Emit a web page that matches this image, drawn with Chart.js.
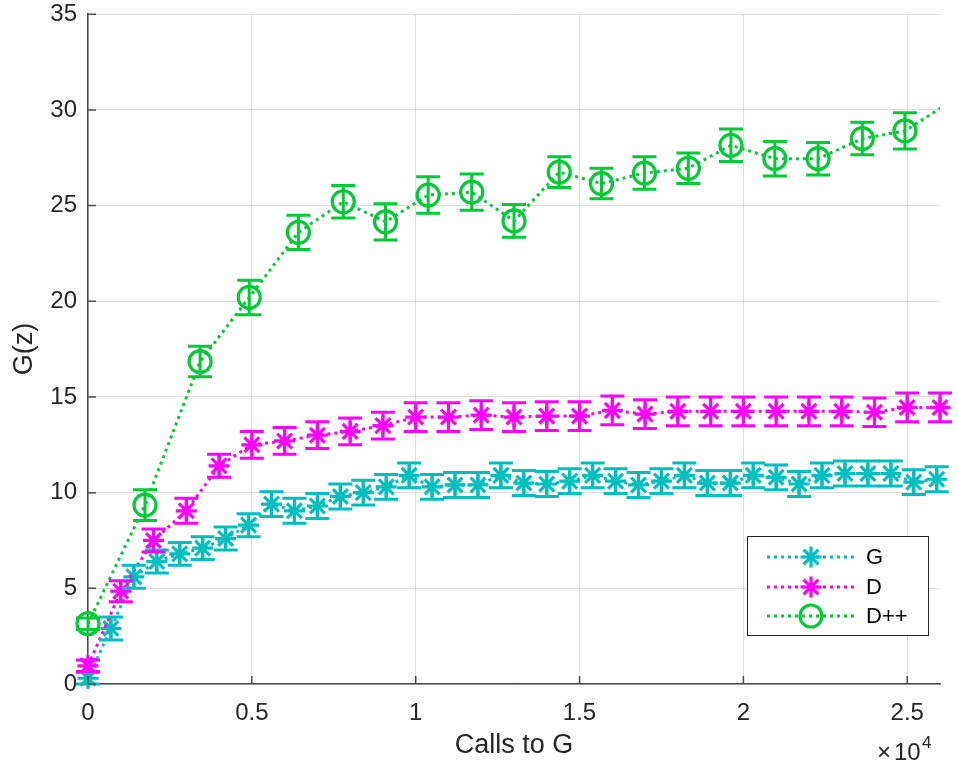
<!DOCTYPE html>
<html>
<head>
<meta charset="utf-8">
<script src="https://cdn.jsdelivr.net/npm/chart.js@4.4.0/dist/chart.umd.min.js"></script>
<style>
html, body { margin: 0; padding: 0; background: #fff; }
#wrap { width: 958px; height: 766px; }
</style>
</head>
<body>
<div id="wrap"><canvas id="myChart1" width="958" height="766"></canvas></div>
<script>
// tick labels
const xTicks = [0, 5000, 10000, 15000, 20000, 25000];
const xTickLabels = ['0', '0.5', '1', '1.5', '2', '2.5'];
const yTicks = [0, 5, 10, 15, 20, 25, 30, 35];
const yTickLabels = ['0', '5', '10', '15', '20', '25', '30', '35'];

// series G
const gCalls = [0, 700, 1400, 2100, 2800, 3500, 4200, 4900, 5600, 6300, 7000, 7700, 8400, 9100, 9800,
    10500, 11200, 11900, 12600, 13300, 14000, 14700, 15400, 16100, 16800, 17500, 18200, 18900, 19600,
    20300, 21000, 21700, 22400, 23100, 23800, 24500, 25200, 25900];
const gValues = [0.3, 2.9, 5.6, 6.4, 6.8, 7.1, 7.6, 8.3, 9.4, 9.05, 9.3, 9.8, 10.0, 10.3, 10.9,
    10.3, 10.4, 10.4, 10.9, 10.5, 10.45, 10.6, 10.9, 10.6, 10.4, 10.6, 10.9, 10.5, 10.5,
    10.9, 10.8, 10.45, 10.9, 11.0, 11.0, 11.0, 10.55, 10.7];
const gErr = [0.3, 0.6, 0.6, 0.6, 0.6, 0.6, 0.6, 0.6, 0.65, 0.65, 0.65, 0.65, 0.65, 0.65, 0.65,
    0.65, 0.65, 0.65, 0.65, 0.65, 0.65, 0.65, 0.65, 0.65, 0.65, 0.65, 0.65, 0.65, 0.65,
    0.65, 0.65, 0.65, 0.65, 0.65, 0.65, 0.65, 0.65, 0.65];

// series D
const dCalls = [0, 1000, 2000, 3000, 4000, 5000, 6000, 7000, 8000, 9000, 10000, 11000, 12000, 13000,
    14000, 15000, 16000, 17000, 18000, 19000, 20000, 21000, 22000, 23000, 24000, 25000, 26000];
const dValues = [0.95, 4.85, 7.5, 9.05, 11.4, 12.5, 12.7, 13.0, 13.2, 13.5, 13.95, 13.95, 14.05, 13.95,
    14.0, 14.0, 14.3, 14.1, 14.25, 14.25, 14.25, 14.25, 14.25, 14.25, 14.2, 14.45, 14.45];
const dErr = [0.3, 0.55, 0.6, 0.65, 0.6, 0.7, 0.7, 0.7, 0.7, 0.7, 0.75, 0.75, 0.75, 0.75,
    0.75, 0.75, 0.75, 0.75, 0.75, 0.75, 0.75, 0.75, 0.75, 0.75, 0.75, 0.75, 0.75];

// series D++
const dppCalls = [0, 1740, 3420, 4920, 6420, 7790, 9080, 10380, 11710, 13000, 14380, 15670, 16980,
    18320, 19620, 20960, 22280, 23630, 24930, 26250];
const dppValues = [3.15, 9.35, 16.85, 20.2, 23.6, 25.2, 24.15, 25.55, 25.7, 24.2, 26.75, 26.15, 26.7,
    26.95, 28.15, 27.45, 27.45, 28.5, 28.9, 30.35];
const dppErr = [0.3, 0.8, 0.8, 0.9, 0.9, 0.85, 0.95, 0.95, 0.95, 0.85, 0.8, 0.8, 0.85,
    0.8, 0.85, 0.9, 0.85, 0.85, 0.95, 0.85];

const X_MAX = 26000;
const FONT = '"Liberation Sans", Arial, Helvetica, sans-serif';
const TXT = '#262626';
const AXIS = '#4a4a4a';

function pts(xs, ys) {
    return xs.map((x, i) => ({ x: x, y: ys[i] }));
}

function series(label, xs, ys, err, color, style, radius, order, clip) {
    return {
        label: label,
        data: pts(xs, ys),
        err: err,
        borderColor: color,
        backgroundColor: 'rgba(0,0,0,0)',
        borderWidth: 3,
        borderDash: [3, 4],
        borderCapStyle: 'butt',
        pointStyle: style,
        pointRadius: ctx => (ctx.raw && ctx.raw.x > X_MAX ? 0 : radius),
        pointBorderWidth: 3.2,
        pointBorderColor: color,
        pointBackgroundColor: 'rgba(0,0,0,0)',
        tension: 0,
        order: order,
        clip: clip
    };
}

const errorBars = {
    id: 'errorBars',
    afterDatasetsDraw(chart) {
        const ctx = chart.ctx;
        const xs = chart.scales.x, ys = chart.scales.y;
        chart.data.datasets.forEach(ds => {
            ctx.save();
            ctx.strokeStyle = ds.borderColor;
            ctx.lineWidth = 3;
            ds.data.forEach((p, i) => {
                if (p.x > X_MAX) return;
                const px = xs.getPixelForValue(p.x);
                const top = ys.getPixelForValue(p.y + ds.err[i]);
                const bot = ys.getPixelForValue(p.y - ds.err[i]);
                ctx.beginPath();
                ctx.moveTo(px, top); ctx.lineTo(px, bot);
                ctx.moveTo(px - 12, top); ctx.lineTo(px + 12, top);
                ctx.moveTo(px - 12, bot); ctx.lineTo(px + 12, bot);
                ctx.stroke();
            });
            ctx.restore();
        });
    }
};

function drawMarker(ctx, style, x, y, r) {
    ctx.beginPath();
    if (style === 'circle') {
        ctx.arc(x, y, r, 0, Math.PI * 2);
    } else {
        const d = r * Math.SQRT1_2;
        ctx.moveTo(x - r, y); ctx.lineTo(x + r, y);
        ctx.moveTo(x, y - r); ctx.lineTo(x, y + r);
        ctx.moveTo(x - d, y - d); ctx.lineTo(x + d, y + d);
        ctx.moveTo(x - d, y + d); ctx.lineTo(x + d, y - d);
    }
    ctx.stroke();
}

const extras = {
    id: 'extras',
    afterDraw(chart) {
        const ctx = chart.ctx;
        const a = chart.chartArea;
        const xs = chart.scales.x, ys = chart.scales.y;
        ctx.save();
        // inward ticks
        ctx.strokeStyle = AXIS;
        ctx.lineWidth = 1.5;
        ctx.beginPath();
        yTicks.forEach(v => {
            const y = ys.getPixelForValue(v);
            ctx.moveTo(a.left, y); ctx.lineTo(a.left + 8, y);
        });
        xTicks.forEach(v => {
            const x = xs.getPixelForValue(v);
            ctx.moveTo(x, a.bottom); ctx.lineTo(x, a.bottom - 8);
        });
        ctx.stroke();

        // x10^4 exponent
        ctx.fillStyle = TXT;
        ctx.textBaseline = 'alphabetic';
        ctx.textAlign = 'left';
        ctx.font = '24px ' + FONT;
        ctx.fillText('\u00d7', a.right - 63, 760);
        ctx.fillText('10', a.right - 46, 760);
        ctx.font = '17px ' + FONT;
        ctx.fillText('4', a.right - 18, 748);

        // legend
        const lx = 747.5, ly = 536.5, lw = 181, lh = 99;
        ctx.fillStyle = '#fff';
        ctx.fillRect(lx, ly, lw, lh);
        ctx.strokeStyle = TXT;
        ctx.lineWidth = 1;
        ctx.strokeRect(lx, ly, lw, lh);
        const rows = [557, 587, 616];
        chart.data.datasets.forEach((ds, i) => {
            const y = rows[i];
            ctx.strokeStyle = ds.borderColor;
            ctx.lineWidth = 3;
            ctx.setLineDash([3, 4]);
            ctx.beginPath();
            ctx.moveTo(767, y); ctx.lineTo(856, y);
            ctx.stroke();
            ctx.setLineDash([]);
            ctx.lineWidth = 3.2;
            drawMarker(ctx, ds.pointStyle, 811, y, ds.pointStyle === 'circle' ? 11 : 10.5);
            ctx.fillStyle = '#000';
            ctx.font = '22px ' + FONT;
            ctx.textBaseline = 'middle';
            ctx.fillText(ds.label, 866, y + 1);
        });
        ctx.restore();
    }
};

const ctx = document.getElementById('myChart1');
window.myChart = new Chart(ctx, {
    type: 'line',
    data: {
        datasets: [
            series('G', gCalls, gValues, gErr, '#00bfbf', 'star', 10.5, 3, false),
            series('D', dCalls, dValues, dErr, '#ff00ff', 'star', 10.5, 2, false),
            series('D++', dppCalls, dppValues, dppErr, '#00cc33', 'circle', 11, 1,
                { left: false, top: false, bottom: false, right: 0 })
        ]
    },
    options: {
        responsive: false,
        animation: false,
        devicePixelRatio: 1,
        layout: { padding: { top: 12, right: 18, left: 0, bottom: 0 } },
        plugins: { legend: { display: false }, tooltip: { enabled: false } },
        scales: {
            x: {
                type: 'linear',
                min: 0,
                max: X_MAX,
                afterBuildTicks: s => { s.ticks = xTicks.map(v => ({ value: v })); },
                afterFit: s => { s.height = 82; s.paddingLeft = 0; s.paddingRight = 0; },
                grid: { color: '#dfdfdf', lineWidth: 1, drawTicks: false },
                border: { color: AXIS, width: 1.5 },
                ticks: {
                    padding: 15,
                    color: TXT,
                    maxRotation: 0,
                    font: { family: FONT, size: 24 },
                    callback: (v, i) => xTickLabels[i]
                },
                title: {
                    display: true,
                    text: 'Calls to G',
                    color: TXT,
                    font: { family: FONT, size: 27 },
                    padding: { top: 0, bottom: 4 }
                }
            },
            y: {
                type: 'linear',
                min: 0,
                max: 35,
                afterBuildTicks: s => { s.ticks = yTicks.map(v => ({ value: v })); },
                afterFit: s => { s.width = 88; s.paddingTop = 0; s.paddingBottom = 0; },
                grid: { color: '#dfdfdf', lineWidth: 1, drawTicks: false },
                border: { color: AXIS, width: 1.5 },
                ticks: {
                    padding: 11,
                    color: TXT,
                    font: { family: FONT, size: 24 },
                    callback: (v, i) => yTickLabels[i]
                },
                title: {
                    display: true,
                    text: 'G(z)',
                    color: TXT,
                    font: { family: FONT, size: 27 },
                    padding: { top: 8, bottom: 0 }
                }
            }
        }
    },
    plugins: [errorBars, extras]
});
</script>
</body>
</html>
